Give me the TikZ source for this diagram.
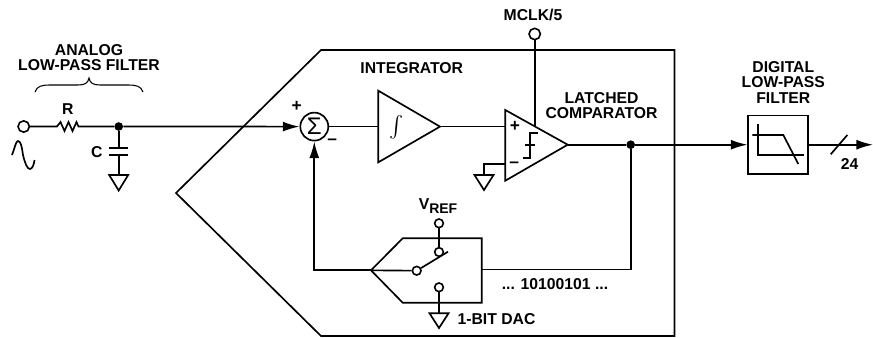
\documentclass[tikz,border=0pt]{standalone}
\usepackage{fontspec}
\setmainfont{Liberation Sans}
\usepackage{tikz}
\usetikzlibrary{arrows.meta, calc}

\tikzset{
  wire/.style={line width=1.25pt},
  flow/.style={wire, -{Latex[length=12.5pt,width=7.5pt]}},
  term/.style={circle, draw, line width=1.2pt, fill=white, minimum size=#1, inner sep=0pt},
  term/.default=8.5pt,
  junction/.style={circle, fill=black, minimum size=6.5pt, inner sep=0pt},
  lbl/.style={font=\bfseries\fontsize{11.8}{11.5}\selectfont, align=center, inner sep=0pt},
  signlbl/.style={font=\bfseries\fontsize{13}{13}\selectfont, inner sep=0pt},
}

\begin{document}
\begin{tikzpicture}[x=0.75pt,y=-0.75pt,line join=miter]
  \useasboundingbox (0,0) rectangle (873,337);

  % Modulator outline
  \draw[wire] (176,193) -- (321,50) -- (674.5,50) -- (674.5,336) -- (321,336) -- cycle;

  % Input filter
  \node[term] (vin) at (23.7,126.5) {};
  \coordinate (resl) at (57,126.5);
  \coordinate (resr) at (80,126.5);
  \node[junction] (node1) at (118.7,126.5) {};
  \coordinate (capt) at (118.7,148);
  \coordinate (capb) at (118.7,155);
  \coordinate (gnd1) at (118.7,175);
  \draw[wire] (vin) -- (resl) -- ++(3.5,-4.5) -- ++(4,9) -- ++(4,-9) -- ++(4,9) -- ++(4,-9) -- ++(2,4.5) -- (resr) -- (node1);
  \draw[wire] (node1) -- (capt);
  \draw[wire] (capb) -- (gnd1);
  \draw[wire] ($(capt)+(-9.5,0)$) -- ($(capt)+(9.5,0)$);
  \draw[wire] ($(capb)+(-9.5,0)$) -- ($(capb)+(9.5,0)$);
  \draw[wire] ($(gnd1)+(-9.5,0)$) -- ($(gnd1)+(9.5,0)$) -- ($(gnd1)+(0,15.5)$) -- cycle;

  % Sine wave and brace
  \draw[wire] (12,155) .. controls (15,147) and (16,141) .. (18,141) .. controls (21,141) and (22,148) .. (23,155) .. controls (25,163) and (27,169) .. (30,169) .. controls (32,169) and (34,165) .. (34.5,160);
  \draw[line width=0.8pt] (35,92) .. controls (37,86) and (42,85) .. (50,85) -- (78,85) .. controls (85,85) and (88,83) .. (89,78) .. controls (90,83) and (93,85) .. (100,85) -- (128,85) .. controls (136,85) and (141,86) .. (143,92);

  % Summing junction
  \node[circle, draw, line width=1.25pt, minimum size=21pt, inner sep=0pt, font=\fontsize{18}{18}\selectfont] (sum) at (314.3,126.6) {Σ};
  \draw[flow] (node1) -- (sum);

  % Integrator
  \coordinate (intl) at (378.3,126.6);
  \coordinate (intr) at (440,126.6);
  \draw[wire] (378.3,90.7) -- (378.3,162.3) -- (intr) -- cycle;
  \node[scale=1.6] (intsym) at (396.7,127.5) {$\int$};
  \draw[wire] (sum) -- (intl);

  % Comparator
  \coordinate (cmpp) at (505.3,126.6);
  \coordinate (cmpn) at (505.3,164.3);
  \coordinate (cmpo) at (567.7,144.7);
  \coordinate (cmpc) at (534.7,127);
  \draw[wire] (505.3,110) -- (505.3,180.7) -- (cmpo) -- cycle;
  \draw[wire] (intr) -- (cmpp);
  \draw[wire] (522.7,158.3) -- (530,158.3) -- (530,133.3) -- (537.7,133.3);
  \draw[wire] (525,145) -- (535,145);
  \node[term] (mclk) at (534.7,34) {};
  \draw[wire] (mclk) -- (cmpc);
  \coordinate (gnd2) at (484,175);
  \draw[wire] (cmpn) -- (484,164.3) -- (gnd2);
  \draw[wire] ($(gnd2)+(-9.5,0)$) -- ($(gnd2)+(9.5,0)$) -- ($(gnd2)+(0,15)$) -- cycle;

  % Digital filter
  \node[draw, line width=1.25pt, minimum width=45pt, minimum height=44pt, inner sep=0pt] (dlpf) at (778.3,144.7) {};
  \node[junction] (node2) at (630.7,144.7) {};
  \coordinate (out) at (873,144.7);
  \draw[wire] (cmpo) -- (node2);
  \draw[flow] (node2) -- (dlpf.west);
  \draw[flow] (dlpf.east) -- (out);
  \draw[wire] (830.7,154.3) -- (847.3,135);
  \draw[wire] (757.7,124) -- (757.7,155) -- (804.3,155);
  \draw[wire] (752.3,135) -- (783.3,135) -- (798.3,164);

  % 1-bit DAC
  \coordinate (dacl) at (371,270.3);
  \coordinate (dacr) at (481.7,269.5);
  \draw[wire] (dacl) -- (402.7,238.3) -- (481.7,238.3) -- (481.7,302.7) -- (402.7,302.7) -- cycle;
  \node[term=6.5pt] (vref) at (439,223.3) {};
  \node[term=6.5pt] (swtop) at (439,252) {};
  \node[term=6.5pt] (swbot) at (439,287.3) {};
  \node[term=6.5pt] (swcom) at (416.7,270.7) {};
  \coordinate (swend) at (448,251.7);
  \coordinate (gnd3) at (439,313.3);
  \draw[wire] (vref) -- (swtop);
  \draw[wire] (dacl) -- (swcom);
  \draw[wire] (swcom) -- (swend);
  \draw[wire] (swbot) -- (gnd3);
  \draw[wire] ($(gnd3)+(-9.5,0)$) -- ($(gnd3)+(9.5,0)$) -- ($(gnd3)+(0,14.7)$) -- cycle;

  % Feedback
  \draw[wire] (node2) |- (dacr);
  \draw[flow] (dacl) -| (sum);

  % Labels
  \node[lbl] (lblafilt) at (89,57.5) {ANALOG\\LOW-PASS FILTER};
  \node[lbl] (lblr) at (67.7,109.3) {R};
  \node[lbl] (lblc) at (96.7,151.7) {C};
  \node[lbl] (lblmclk) at (533,15) {MCLK/5};
  \node[lbl] (lblint) at (411.7,68.3) {INTEGRATOR};
  \node[lbl] (lblcmp) at (601.5,105.5) {LATCHED\\COMPARATOR};
  \node[lbl] (lbldlpf) at (783.3,82.5) {DIGITAL\\LOW-PASS\\FILTER};
  \node[lbl] (lblbits) at (555,284) {... 10100101 ...};
  \node[lbl] (lbldac) at (496.5,319.3) {1-BIT DAC};
  \node[lbl] (lblwidth) at (849.7,164) {24};
  \node[lbl] (lblvref) at (438,206.5) {V\raisebox{-3pt}{\fontsize{10.5}{10.5}\selectfont REF}};
  \node[signlbl] (sump) at (296.7,106) {+};
  \node[signlbl] (summ) at (332.3,141.7) {--};
  \node[signlbl] (cmpplus) at (515,126.7) {+};
  \node[signlbl] (cmpminus) at (514.3,165) {--};
\end{tikzpicture}
\end{document}
